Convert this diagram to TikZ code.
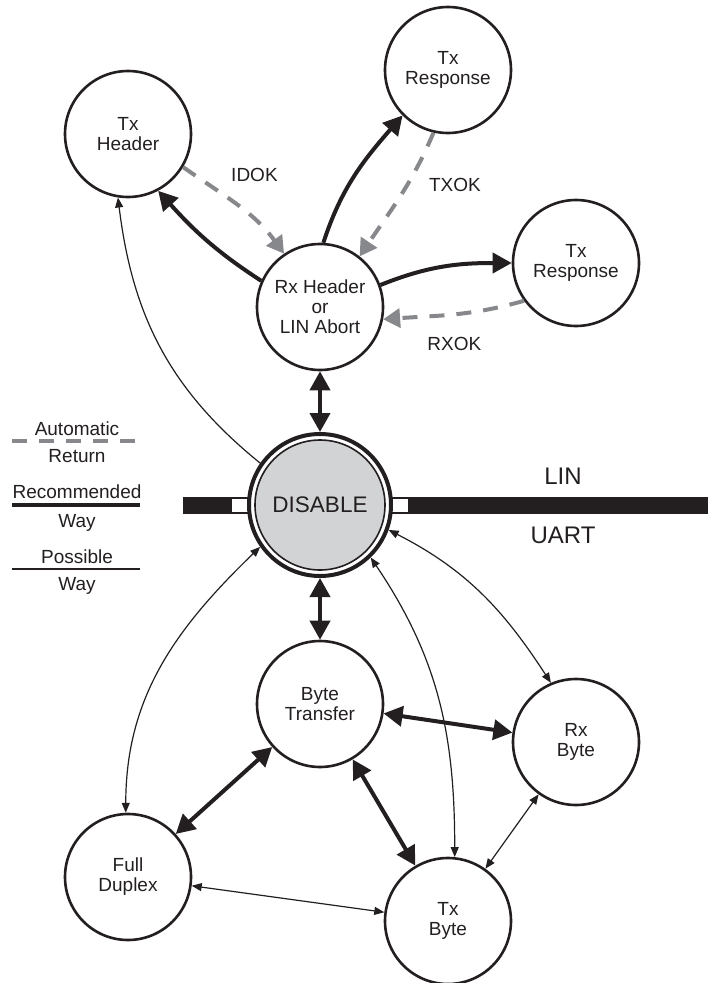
\documentclass[tikz,border=0pt]{standalone}
\usepackage{fontspec}
\setmainfont{Liberation Sans}
\usetikzlibrary{automata, positioning, arrows.meta}
\definecolor{ink}{RGB}{35,31,32}
\definecolor{retgray}{RGB}{135,136,140}
\definecolor{disgray}{RGB}{209,211,212}
\tikzset{
    every state/.style={draw=ink, line width=2.6pt, minimum size=126pt, inner sep=0pt,
        align=center, text=ink, font=\fontsize{19}{20}\selectfont}, % plain states
    disable/.style={fill=white, line width=4pt, minimum size=142pt,
        font=\fontsize{22.5}{24}\selectfont,
        path picture={\draw[line width=1.6pt, fill=disgray]
            (path picture bounding box.center) circle (65pt);}}, % double ring
    recway/.style={draw=ink, line width=4pt, >={Triangle[length=19pt, width=20pt]}}, % recommended
    posway/.style={draw=ink, line width=1.2pt, >={Triangle[length=10pt, width=8pt]}}, % possible
    autoret/.style={draw=retgray, line width=4pt, dash pattern=on 15pt off 12pt,
        >={Triangle[length=17pt, width=19pt, fill=retgray]}}, % automatic return
    lbl/.style={text=ink, inner sep=0pt, font=\fontsize{19}{20}\selectfont},
    legtxt/.style={lbl, anchor=base},
    bigtxt/.style={text=ink, inner sep=0pt, anchor=base, font=\fontsize{24}{24}\selectfont},
}

\begin{document}
\begin{tikzpicture}[x=1pt, y=-1pt, node distance=198pt, on grid, color=ink]
    \useasboundingbox (0,0) rectangle (708,983);

    % LIN / UART bar
    \draw[line width=1.4pt, fill=ink] (184,498) rectangle (231,513);
    \draw[line width=1.4pt, fill=white] (231,498) rectangle (262,513);
    \draw[line width=1.4pt, fill=white] (378,498) rectangle (409,513);
    \fill (409,497.3) rectangle (710,513.7);

    \node[state, disable] (dis) at (320,505) {DISABLE};
    \node[state] (rxh) [above=of dis] {Rx Header\\or\\LIN Abort};
    \node[state] (txh) [above left=173pt and 192pt of rxh] {Tx\\Header};
    \node[state] (txr1) [above right=237pt and 128pt of rxh] {Tx\\Response};
    \node[state] (txr2) [above right=44pt and 256pt of rxh] {Tx\\Response};
    \node[state] (bt) [below=199pt of dis] {Byte\\Transfer};
    \node[state] (fd) [below left=173pt and 192pt of bt] {Full\\Duplex};
    \node[state] (tb) [below right=217pt and 128pt of bt] {Tx\\Byte};
    \node[state] (rb) [below right=38pt and 256pt of bt] {Rx\\Byte};

    \node[bigtxt] (lin) at (563,484) {LIN};
    \node[bigtxt] (uart) at (563,543) {UART};

    % LIN side
    \draw[recway, ->] (rxh.156) to[out=147, in=-48] (txh.-62);
    \draw[autoret, ->] (txh.-31) to[out=-35, in=126]
        node[lbl, pos=.4, above right=15pt and 1pt] {IDOK} (rxh.124);
    \draw[recway, ->] (rxh.87) to[out=72, in=229] (txr1.225);
    \draw[autoret, ->] (txr1.-103) to[out=-113, in=56]
        node[lbl, pos=.4, right=20pt] {TXOK} (rxh.52);
    \draw[recway, ->] (rxh.20) to[out=22, in=180] (txr2.180);
    \draw[autoret, ->] (txr2.-144) to[out=196, in=4]
        node[lbl, pos=.5, below=21pt] {RXOK} (rxh.-11);
    \draw[recway, <->] (rxh) -- (dis);
    \draw[posway, ->] (dis.145) to[out=141, in=-83] (txh.-99);

    % UART side
    \draw[recway, <->] (dis) -- (bt);
    \draw[posway, <->] (dis.215) to[out=224, in=90] (fd.92);
    \draw[posway, <->] (dis.-46) to[out=-56, in=90] (tb.84);
    \draw[posway, <->] (dis.-20) to[out=-27, in=123] (rb.113);
    \draw[recway, <->] (bt) -- (rb);
    \draw[recway, <->] (bt) -- (fd);
    \draw[recway, <->] (bt) -- (tb);
    \draw[posway, <->] (fd) -- (tb);
    \draw[posway, <->] (rb) -- (tb);

    % legend
    \node[legtxt] (autotxt) at (77,435) {Automatic};
    \draw[autoret] (12,441) -- (140,441);
    \node[legtxt] (rettxt) at (77,462) {Return};
    \node[legtxt] (rectxt) at (77,498) {Recommended};
    \draw[recway] (12,505) -- (140,505);
    \node[legtxt] (waytxt) at (77,527) {Way};
    \node[legtxt] (postxt) at (77,563) {Possible};
    \draw[posway] (12,569) -- (140,569);
    \node[legtxt] (waytxtb) at (77,590) {Way};
\end{tikzpicture}
\end{document}
